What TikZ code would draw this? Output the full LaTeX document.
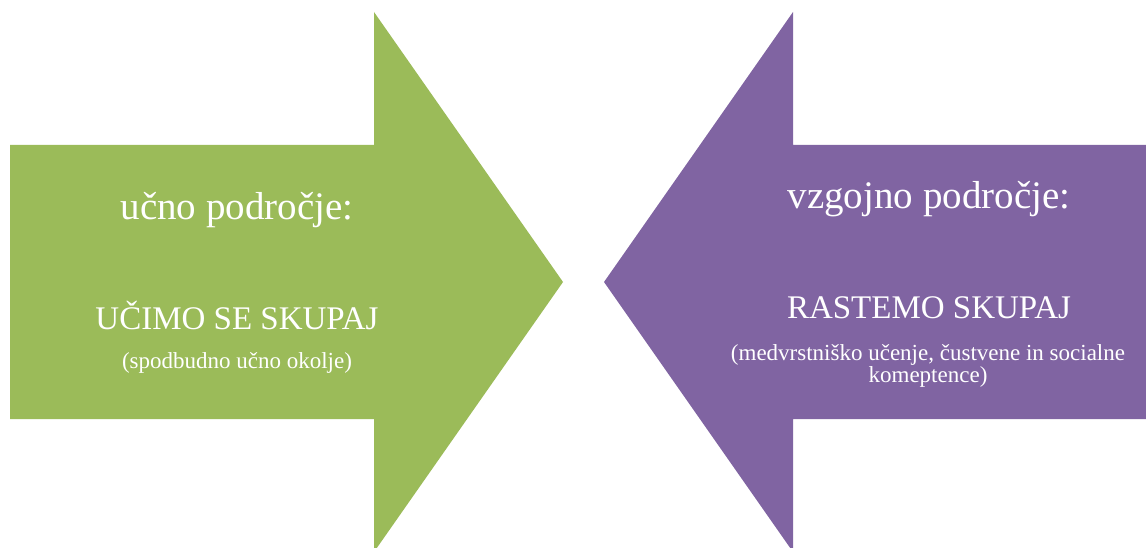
\documentclass[tikz,border=0pt]{standalone}
\usepackage{fontspec}
\setmainfont{Liberation Serif}
\definecolor{arrowgreen}{HTML}{9BBB59}
\definecolor{arrowpurple}{HTML}{8064A2}
\begin{document}
\begin{tikzpicture}[x=1pt,y=1pt,
  lbl/.style={text=white,inner sep=0pt,anchor=base,align=center},
  lower/.style={lbl,font=\fontsize{39}{44}\selectfont},
  upper/.style={lbl,font=\fontsize{33}{38}\selectfont},
  small/.style={lbl,font=\fontsize{23}{24}\selectfont}]
\useasboundingbox (0,0) rectangle (1146,547);
\begin{scope}
\clip (0,0) rectangle (1146,547);
% green arrow (y = 547 - pixel row)
\fill[arrowgreen] (10,402) -- (374,402) -- (374,535) -- (563,265) -- (374,-5) -- (374,128) -- (10,128) -- cycle;
% purple arrow
\fill[arrowpurple] (1150,402) -- (793,402) -- (793,535) -- (604,265) -- (793,-5) -- (793,128) -- (1150,128) -- cycle;
\end{scope}
\node[lower] (l1) at (237,327) {učno področje:};
\node[upper] (l2) at (237,218) {UČIMO SE SKUPAJ};
\node[small] (l3) at (237,179) {(spodbudno učno okolje)};
\node[lower] (r1) at (929,338) {vzgojno področje:};
\node[upper] (r2) at (929,229) {RASTEMO SKUPAJ};
\node[small] (r3) at (928,187) {(medvrstniško učenje, čustvene in socialne};
\node[small] (r4) at (928,165) {komeptence)};
\end{tikzpicture}
\end{document}
